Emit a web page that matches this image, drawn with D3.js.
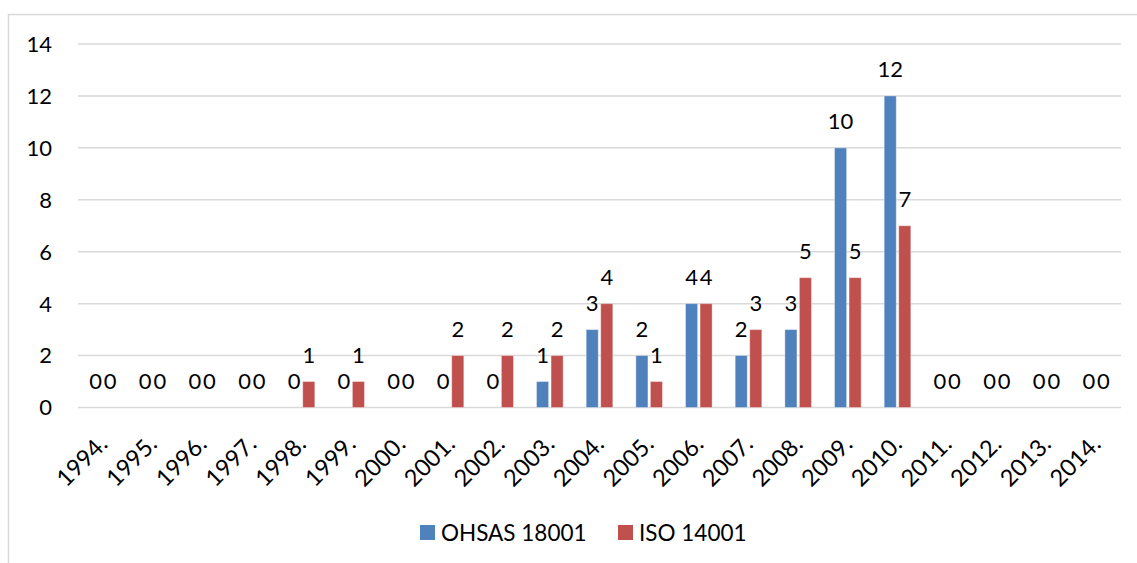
<!DOCTYPE html>
<html>
<head>
<meta charset="utf-8">
<script src="https://cdn.jsdelivr.net/npm/d3@7"></script>
<style>
  body { margin: 0; background: #fff; }
  text { font-family: Lato, "Open Sans", sans-serif; fill: #000; }
</style>
</head>
<body>
<div id="chart"></div>
<script>
const years = ["1994.", "1995.", "1996.", "1997.", "1998.", "1999.", "2000.", "2001.", "2002.", "2003.", "2004.",
  "2005.", "2006.", "2007.", "2008.", "2009.", "2010.", "2011.", "2012.", "2013.", "2014."];
const ohsas = [0, 0, 0, 0, 0, 0, 0, 0, 0, 1, 3, 2, 4, 2, 3, 10, 12, 0, 0, 0, 0];
const iso = [0, 0, 0, 0, 1, 1, 0, 2, 2, 2, 4, 1, 4, 3, 5, 5, 7, 0, 0, 0, 0];
const seriesNames = ["OHSAS 18001", "ISO 14001"];
const colors = ["#4F81BD", "#C0504D"];
const yTicks = [0, 2, 4, 6, 8, 10, 12, 14];

const width = 1137, height = 563;
const plotLeft = 78, plotRight = 1121, plotTop = 44, plotBottom = 407.5;
const fontSize = 22;

const svg = d3.select("#chart")
  .append("svg")
  .attr("width", width)
  .attr("height", height);

// chart frame (only top and left edges fall inside the picture)
svg.append("rect")
  .attr("x", 8.5).attr("y", 14.5)
  .attr("width", 1200).attr("height", 600)
  .attr("fill", "none")
  .attr("stroke", "#d9d9d9")
  .attr("stroke-width", 1.5);

const x = d3.scaleBand().domain(years).range([plotLeft, plotRight]);
const sub = d3.scaleBand().domain([0, 1]).range([-13.3, 13.3]).paddingInner(0.17);
const y = d3.scaleLinear().domain([0, 14]).range([plotBottom, plotTop]);

// gridlines
svg.append("g")
  .selectAll("line")
  .data(yTicks)
  .join("line")
  .attr("x1", plotLeft).attr("x2", plotRight)
  .attr("y1", d => y(d)).attr("y2", d => y(d))
  .attr("stroke", "#d9d9d9")
  .attr("stroke-width", 1.5);

// y tick labels
svg.append("g")
  .selectAll("text")
  .data(yTicks)
  .join("text")
  .attr("x", 52)
  .attr("y", d => y(d))
  .attr("dy", "0.36em")
  .attr("text-anchor", "end")
  .attr("font-size", fontSize)
  .text(d => d);

const rows = [];
years.forEach((yr, i) => {
  rows.push({ yr, s: 0, v: ohsas[i] });
  rows.push({ yr, s: 1, v: iso[i] });
});

const barX = d => x(d.yr) + x.bandwidth() / 2 + sub(d.s);

svg.append("g")
  .selectAll("rect")
  .data(rows.filter(d => d.v > 0))
  .join("rect")
  .attr("x", barX)
  .attr("y", d => y(d.v))
  .attr("width", sub.bandwidth())
  .attr("height", d => y(0) - y(d.v))
  .attr("fill", d => colors[d.s])
  .attr("stroke", "rgba(255,255,255,0.35)")
  .attr("stroke-width", 1);

// value labels
svg.append("g")
  .selectAll("text")
  .data(rows)
  .join("text")
  .attr("x", d => barX(d) + sub.bandwidth() / 2)
  .attr("y", d => y(d.v) - 19)
  .attr("text-anchor", "middle")
  .attr("font-size", fontSize)
  .text(d => d.v);

// x labels
svg.append("g")
  .selectAll("text")
  .data(years)
  .join("text")
  .attr("transform", d => `translate(${x(d) + x.bandwidth() / 2 + 6},${plotBottom + 38}) rotate(-45)`)
  .attr("text-anchor", "end")
  .attr("font-size", 23.5)
  .text(d => d);

// legend
const legend = svg.append("g");
const legendX = [420, 618];
seriesNames.forEach((name, i) => {
  legend.append("rect")
    .attr("x", legendX[i]).attr("y", 525)
    .attr("width", 15).attr("height", 15)
    .attr("fill", colors[i]);
  legend.append("text")
    .attr("x", legendX[i] + 21).attr("y", 532.5)
    .attr("dy", "0.36em")
    .attr("font-size", 22.5)
    .text(name);
});
</script>
</body>
</html>
